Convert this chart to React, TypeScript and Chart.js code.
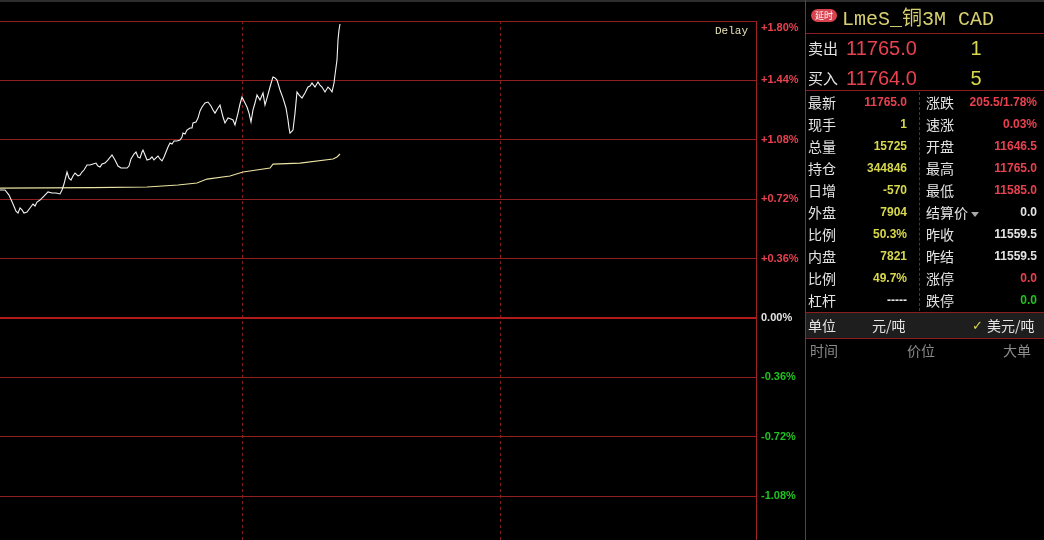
import React, { useEffect, useRef } from "react";
import { Chart, registerables } from "chart.js";
Chart.register(...registerables);

// ---- chart data (x = minute index from session start, y = % change vs. previous settle) ----
const timeIdx = [0, 5, 9, 13, 16, 18, 20, 22, 24, 27, 30, 33, 35, 37, 40, 44, 48, 52, 56, 60, 62, 64, 67, 69, 71, 73, 75, 78, 80, 82, 84, 87, 90, 93, 96, 98, 100, 102, 105, 108, 112, 115, 118, 121, 124, 127, 129, 131, 134, 136, 138, 140, 142, 143, 145, 147, 150, 152, 154, 156, 158, 160, 162, 164, 166, 168, 170, 172, 174, 177, 180, 182, 183, 185, 187, 190, 192, 193, 196, 198, 200, 202, 205, 208, 211, 213, 215, 218, 220, 223, 225, 228, 231, 233, 235, 238, 240, 242, 245, 247, 249, 251, 253, 255, 257, 260, 263, 265, 267, 270, 272, 273, 275, 277, 280, 283, 286, 288, 289, 290, 292, 293, 295, 297, 299, 302, 305, 308, 310, 312, 315, 318, 320, 322, 325, 328, 330, 332, 334, 335, 337, 338, 339, 340];
const pricePct = [0.776, 0.776, 0.745, 0.691, 0.648, 0.636, 0.667, 0.655, 0.636, 0.642, 0.667, 0.691, 0.679, 0.703, 0.715, 0.739, 0.764, 0.758, 0.758, 0.752, 0.776, 0.812, 0.885, 0.848, 0.836, 0.861, 0.879, 0.861, 0.867, 0.885, 0.897, 0.927, 0.927, 0.933, 0.939, 0.921, 0.915, 0.933, 0.939, 0.958, 0.988, 0.958, 0.921, 0.909, 0.909, 0.909, 0.921, 0.964, 0.994, 1.006, 0.976, 0.970, 1.006, 1.018, 0.988, 0.958, 0.964, 0.976, 0.958, 0.970, 0.982, 0.964, 0.952, 0.976, 1.006, 1.036, 1.061, 1.055, 1.073, 1.073, 1.079, 1.097, 1.121, 1.115, 1.139, 1.152, 1.152, 1.182, 1.188, 1.212, 1.255, 1.279, 1.303, 1.309, 1.285, 1.261, 1.242, 1.273, 1.291, 1.218, 1.182, 1.212, 1.206, 1.200, 1.170, 1.242, 1.297, 1.339, 1.303, 1.279, 1.242, 1.188, 1.261, 1.303, 1.352, 1.321, 1.364, 1.291, 1.333, 1.400, 1.442, 1.461, 1.455, 1.442, 1.382, 1.333, 1.273, 1.200, 1.152, 1.121, 1.133, 1.139, 1.242, 1.370, 1.352, 1.333, 1.364, 1.400, 1.406, 1.424, 1.400, 1.430, 1.412, 1.400, 1.370, 1.400, 1.388, 1.370, 1.424, 1.473, 1.564, 1.685, 1.745, 1.782];
const avgIdx = [0, 93, 147, 178, 197, 207, 230, 243, 270, 273, 300, 333, 337, 340];
const avgPct = [0.787, 0.790, 0.794, 0.806, 0.818, 0.842, 0.861, 0.885, 0.909, 0.933, 0.939, 0.964, 0.976, 0.994];
const yTickValues = [-1.08, -0.72, -0.36, 0, 0.36, 0.72, 1.08, 1.44, 1.8];
const xGridValues = [242, 500];
const X_MIN = 0;
const X_MAX = 756;
const Y_MAX = 1.8;
const Y_MIN = -1.345;

// ---- quote panel data ----
const leftLabels = ["最新", "现手", "总量", "持仓", "日增", "外盘", "比例", "内盘", "比例", "杠杆"];
const leftValues = ["11765.0", "1", "15725", "344846", "-570", "7904", "50.3%", "7821", "49.7%", "-----"];
const leftTones = ["r", "y", "y", "y", "y", "y", "y", "y", "y", "w"];
const rightLabels = ["涨跌", "速涨", "开盘", "最高", "最低", "结算价", "昨收", "昨结", "涨停", "跌停"];
const rightValues = ["205.5/1.78%", "0.03%", "11646.5", "11765.0", "11585.0", "0.0", "11559.5", "11559.5", "0.0", "0.0"];
const rightTones = ["r", "r", "r", "r", "r", "w", "w", "w", "r", "g"];

const RED = "#e8414f";
const YEL = "#d8d84c";
const WHITE = "#e4e4e4";
const GREEN = "#22c022";
const GRID = "#921f1f";
const tone: Record<string, string> = { r: RED, y: YEL, w: WHITE, g: GREEN };

const CJK = '"Noto Sans CJK SC", "Noto Sans", sans-serif';
const NUM = '"Liberation Sans", Arial, sans-serif';

function fmtTick(v: number): string | string[] {
  const s = (v > 0 ? "+" : "") + v.toFixed(2) + "%";
  if (Math.abs(v - Y_MAX) < 1e-9) return ["", s];
  return s;
}

export default function App() {
  const ref = useRef<HTMLCanvasElement | null>(null);
  useEffect(() => {
    document.body.style.margin = "0";
    document.body.style.background = "#000";
    const ctx = ref.current!.getContext("2d")!;
    const chart = new Chart(ctx, {
      type: "line",
      data: {
        datasets: [
          {
            label: "价格",
            data: timeIdx.map((x, i) => ({ x, y: pricePct[i] })),
            borderColor: "#f4f4f4",
            borderWidth: 1.1,
            pointRadius: 0,
            tension: 0,
          },
          {
            label: "均价",
            data: avgIdx.map((x, i) => ({ x, y: avgPct[i] })),
            borderColor: "#ebe4a2",
            borderWidth: 1.1,
            pointRadius: 0,
            tension: 0,
          },
        ],
      },
      options: {
        responsive: false,
        animation: false,
        events: [],
        layout: { padding: { top: 21, left: 0, right: 0, bottom: 0 } },
        plugins: { legend: { display: false }, tooltip: { enabled: false } },
        scales: {
          x: {
            type: "linear",
            min: X_MIN,
            max: X_MAX,
            afterBuildTicks: (s: any) => {
              s.ticks = xGridValues.map((v) => ({ value: v }));
            },
            afterFit: (s: any) => {
              s.height = 0;
              s.paddingLeft = 0;
              s.paddingRight = 0;
              s.paddingTop = 0;
              s.paddingBottom = 0;
            },
            ticks: { display: false },
            grid: { color: "#801c1c", lineWidth: 1, drawTicks: false },
            border: { display: false, dash: [3, 3] },
          },
          y: {
            position: "right",
            min: Y_MIN,
            max: Y_MAX,
            afterBuildTicks: (s: any) => {
              s.ticks = yTickValues.map((v) => ({ value: v }));
            },
            afterFit: (s: any) => {
              s.width = 49;
              s.paddingTop = 0;
              s.paddingBottom = 0;
            },
            ticks: {
              padding: 5,
              font: { family: NUM, size: 11, weight: "bold" },
              color: (c: any) => (c.tick.value > 0 ? RED : c.tick.value < 0 ? GREEN : WHITE),
              callback: (v: any) => fmtTick(Number(v)),
            },
            grid: {
              drawTicks: false,
              tickLength: 0,
              color: (c: any) => (c.tick && c.tick.value === 0 ? "#b01c1c" : GRID),
              lineWidth: (c: any) => (c.tick && c.tick.value === 0 ? 2 : 1),
            },
            border: { display: true, color: "#a02424", width: 1 },
          },
        },
      },
    });
    return () => chart.destroy();
  }, []);

  const rowTop = (i: number) => 91 + i * 22;

  return (
    <div style={{ position: "relative", width: 1044, height: 540, background: "#000", overflow: "hidden" }}>
      <canvas ref={ref} width={805} height={540} style={{ position: "absolute", left: 0, top: 0, width: 805, height: 540 }} />
      <div style={{ position: "absolute", left: 0, top: 0, width: 1044, height: 2, background: "#2e2e2e" }} />
      <div style={{ position: "absolute", left: 715, top: 23, width: 40, fontFamily: '"Liberation Mono", monospace', fontSize: 11, color: "#e6e2b4", lineHeight: "16px" }}>Delay</div>

      {/* quote panel */}
      <div style={{ position: "absolute", left: 805, top: 0, width: 1, height: 540, background: "#a02424" }} />
      <div style={{ position: "absolute", left: 811, top: 9, width: 26, height: 13, borderRadius: 7, background: "#d9434f", color: "#fff", fontFamily: CJK, fontSize: 9, lineHeight: "13px", textAlign: "center" }}>延时</div>
      <div style={{ position: "absolute", left: 842, top: 7, fontFamily: '"Liberation Mono", "Noto Sans CJK SC", monospace', fontSize: 20, color: "#d8d070", lineHeight: "26px", whiteSpace: "nowrap" }}>LmeS_铜3M CAD</div>
      <div style={{ position: "absolute", left: 806, top: 33, width: 238, height: 1, background: "#8a1e1e" }} />

      <div style={{ position: "absolute", left: 808, top: 36, fontFamily: CJK, fontSize: 15, color: WHITE, lineHeight: "24px" }}>卖出</div>
      <div style={{ position: "absolute", left: 846, top: 36, fontFamily: NUM, fontSize: 20, color: RED, lineHeight: "24px" }}>11765.0</div>
      <div style={{ position: "absolute", left: 962, top: 36, width: 28, textAlign: "center", fontFamily: NUM, fontSize: 20, color: YEL, lineHeight: "24px" }}>1</div>
      <div style={{ position: "absolute", left: 808, top: 66, fontFamily: CJK, fontSize: 15, color: WHITE, lineHeight: "24px" }}>买入</div>
      <div style={{ position: "absolute", left: 846, top: 66, fontFamily: NUM, fontSize: 20, color: RED, lineHeight: "24px" }}>11764.0</div>
      <div style={{ position: "absolute", left: 962, top: 66, width: 28, textAlign: "center", fontFamily: NUM, fontSize: 20, color: YEL, lineHeight: "24px" }}>5</div>
      <div style={{ position: "absolute", left: 806, top: 90, width: 238, height: 1, background: "#8a1e1e" }} />
      <div style={{ position: "absolute", left: 919, top: 92, width: 0, height: 219, borderLeft: "1px dashed #8a1e1e" }} />

      {leftLabels.map((l, i) => (
        <React.Fragment key={"l" + i}>
          <div style={{ position: "absolute", left: 808, top: rowTop(i), fontFamily: CJK, fontSize: 14, color: WHITE, lineHeight: "22px" }}>{l}</div>
          <div style={{ position: "absolute", left: 840, top: rowTop(i), width: 67, textAlign: "right", fontFamily: NUM, fontWeight: "bold", fontSize: 12, color: tone[leftTones[i]], lineHeight: "22px" }}>{leftValues[i]}</div>
        </React.Fragment>
      ))}
      {rightLabels.map((l, i) => (
        <React.Fragment key={"r" + i}>
          <div style={{ position: "absolute", left: 926, top: rowTop(i), fontFamily: CJK, fontSize: 14, color: WHITE, lineHeight: "22px", whiteSpace: "nowrap" }}>
            {l}
            {l === "结算价" && (
              <span style={{ display: "inline-block", width: 0, height: 0, marginLeft: 3, verticalAlign: "middle", borderLeft: "4px solid transparent", borderRight: "4px solid transparent", borderTop: "5px solid #a8a8a8" }} />
            )}
          </div>
          <div style={{ position: "absolute", left: 955, top: rowTop(i), width: 82, textAlign: "right", fontFamily: NUM, fontWeight: "bold", fontSize: 12, color: tone[rightTones[i]], lineHeight: "22px" }}>{rightValues[i]}</div>
        </React.Fragment>
      ))}

      <div style={{ position: "absolute", left: 806, top: 312, width: 238, height: 25, background: "#1e1e1e", borderTop: "1px solid #8a1e1e", borderBottom: "1px solid #8a1e1e" }} />
      <div style={{ position: "absolute", left: 808, top: 313, fontFamily: CJK, fontSize: 14, color: WHITE, lineHeight: "25px" }}>单位</div>
      <div style={{ position: "absolute", left: 872, top: 313, fontFamily: CJK, fontSize: 14, color: WHITE, lineHeight: "25px" }}>元/吨</div>
      <div style={{ position: "absolute", left: 972, top: 313, fontFamily: '"DejaVu Sans", sans-serif', fontSize: 13, fontWeight: "bold", color: YEL, lineHeight: "25px" }}>✓</div>
      <div style={{ position: "absolute", left: 987, top: 313, fontFamily: CJK, fontSize: 14, color: WHITE, lineHeight: "25px" }}>美元/吨</div>

      <div style={{ position: "absolute", left: 810, top: 339, fontFamily: CJK, fontSize: 14, color: "#8a8a8a", lineHeight: "22px" }}>时间</div>
      <div style={{ position: "absolute", left: 907, top: 339, fontFamily: CJK, fontSize: 14, color: "#8a8a8a", lineHeight: "22px" }}>价位</div>
      <div style={{ position: "absolute", left: 1003, top: 339, fontFamily: CJK, fontSize: 14, color: "#8a8a8a", lineHeight: "22px" }}>大单</div>
    </div>
  );
}
